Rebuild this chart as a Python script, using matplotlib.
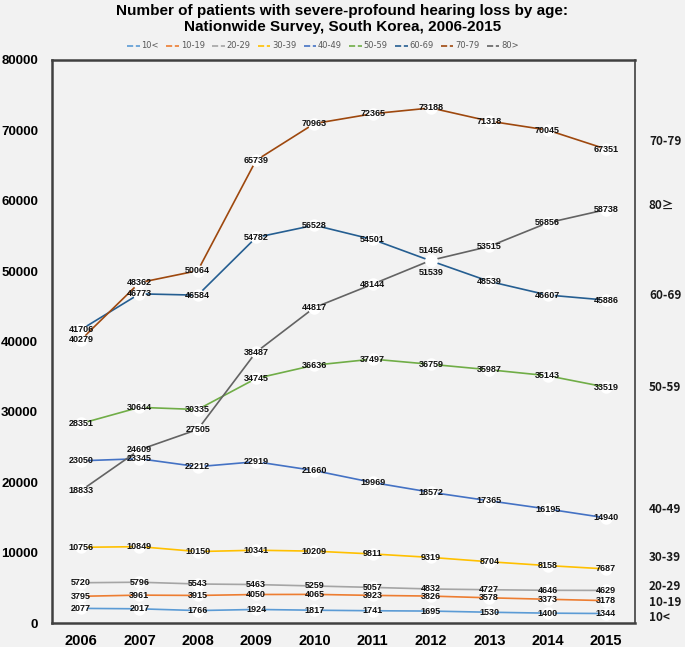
import matplotlib
matplotlib.use("Agg")
import matplotlib.pyplot as plt
from matplotlib.lines import Line2D

years = [2006, 2007, 2008, 2009, 2010, 2011, 2012, 2013, 2014, 2015]
groups = ["10<", "10-19", "20-29", "30-39", "40-49", "50-59", "60-69", "70-79", "80>"]
right_labels = ["10<", "10-19", "20-29", "30-39", "40-49", "50-59", "60-69", "70-79", "80≥"]
v_u10 = [2077, 2017, 1766, 1924, 1817, 1741, 1695, 1530, 1400, 1344]
v_10s = [3795, 3961, 3915, 4050, 4065, 3923, 3826, 3578, 3373, 3178]
v_20s = [5720, 5796, 5543, 5463, 5259, 5057, 4832, 4727, 4646, 4629]
v_30s = [10756, 10849, 10150, 10341, 10209, 9811, 9319, 8704, 8158, 7687]
v_40s = [23050, 23345, 22212, 22919, 21660, 19969, 18572, 17365, 16195, 14940]
v_50s = [28351, 30644, 30335, 34745, 36636, 37497, 36759, 35987, 35143, 33519]
v_60s = [41706, 46773, 46584, 54782, 56528, 54501, 51456, 48539, 46607, 45886]
v_70s = [40279, 48362, 50064, 65739, 70963, 72365, 73188, 71318, 70045, 67351]
v_80p = [18833, 24609, 27505, 38487, 44817, 48144, 51539, 53515, 56856, 58738]
series = [v_u10, v_10s, v_20s, v_30s, v_40s, v_50s, v_60s, v_70s, v_80p]
colors = ["#5B9BD5", "#ED7D31", "#A5A5A5", "#FFC000", "#4472C4",
          "#70AD47", "#255E91", "#9E480E", "#636363"]
# right-side label y positions (data units)
right_label_y = [850, 2980, 5120, 9240, 16060, 33400, 46470, 68350, 59400]

bg = "#F2F2F2"
fig = plt.figure(figsize=(6.85, 6.47), dpi=100, facecolor=bg)
ax = fig.add_axes([52/685, 24/647, 583/685, 563/647], facecolor=bg)

for vals, c in zip(series, colors):
    ax.plot(years, vals, color=c, lw=1.2, zorder=2)
    ax.plot(years, vals, ls="none", marker="o", ms=9, mfc="white", mec="none", zorder=3)

for gi, vals in enumerate(series):
    for x, v in zip(years, vals):
        dy = 0
        if x == 2012 and groups[gi] == "60-69":
            dy = 1500
        elif x == 2012 and groups[gi] == "80>":
            dy = -1700
        ax.text(x, v + dy, str(v), ha="center", va="center", fontsize=6.5,
                fontweight="bold", family="Liberation Sans", color="#111111", zorder=4)

ax.set_xlim(2005.5, 2015.5)
ax.set_ylim(0, 80000)
ax.set_xticks(years)
ax.set_xticklabels([str(y) for y in years], fontsize=10.5, fontweight="bold",
                   family="Liberation Sans")
ax.set_yticks(range(0, 80001, 10000))
ax.set_yticklabels([str(v) for v in range(0, 80001, 10000)], fontsize=9.5,
                   fontweight="bold", family="Liberation Sans")
ax.tick_params(length=0, pad=8)
ax.tick_params(axis="y", pad=10)
for s in ["left", "bottom", "top"]:
    ax.spines[s].set_linewidth(1.8)
    ax.spines[s].set_color("#404040")
ax.spines["right"].set_linewidth(1.2)
ax.spines["right"].set_color("#404040")

for lab, yv in zip(right_labels, right_label_y):
    ax.text(2015.74, yv, lab, ha="left", va="center", fontsize=8.5, fontweight="bold",
            family=["Noto Sans CJK KR", "DejaVu Sans"], color="#1a1a1a", clip_on=False)

fig.text(0.5, 1 - 19/647, "Number of patients with severe-profound hearing loss by age:\nNationwide Survey, South Korea, 2006-2015",
         ha="center", va="center", fontsize=11, fontweight="bold",
         family="Liberation Sans", linespacing=1.15)

handles = [Line2D([0], [0], color=c, lw=1.2, ls="--") for c in colors]
fig.legend(handles, groups, loc="center", bbox_to_anchor=(323/685, 1 - 46/647), ncol=9,
           frameon=False, fontsize=6, handlelength=1.5, handletextpad=0.2,
           columnspacing=0.9, labelcolor="#595959")

fig.savefig("out.png", dpi=100, facecolor=bg)
